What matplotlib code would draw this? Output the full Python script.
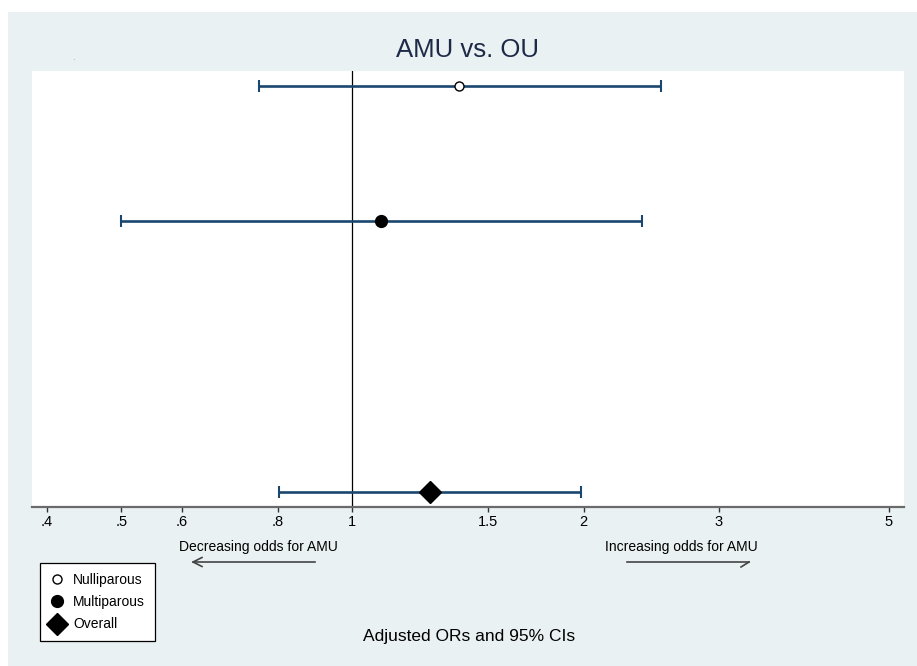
import numpy as np
import matplotlib
matplotlib.use("Agg")
import matplotlib.pyplot as plt
from matplotlib.patches import Rectangle
from matplotlib.lines import Line2D

plt.rcParams['font.family'] = ['Liberation Sans', 'DejaVu Sans']

# adjusted odds ratios with 95% confidence limits
groups = ["Nulliparous", "Multiparous", "Overall"]
ypos = [3, 2, 0]
or_est = [1.377, 1.09, 1.262]
ci_low = [0.756, 0.50, 0.802]
ci_high = [2.52, 2.384, 1.985]
markers = ["o", "o", "D"]
fills = ["white", "black", "black"]
msizes = [6.5, 8.5, 11]

xticks = [0.4, 0.5, 0.6, 0.8, 1, 1.5, 2, 3, 5]
xticklabels = [".4", ".5", ".6", ".8", "1", "1.5", "2", "3", "5"]

W, H = 917, 666
fig = plt.figure(figsize=(W / 100, H / 100), dpi=100)
fig.patch.set_facecolor("white")
bg = "#EAF1F3"
fig.add_artist(Rectangle((8 / W, 0), 1 - 8 / W, 1 - 12 / H, transform=fig.transFigure,
                         facecolor=bg, edgecolor="none", zorder=-10))


def px(x, y):
    # pixel position (from top-left) to figure fraction
    return x / W, 1 - y / H


ax = fig.add_axes([32 / W, 1 - 507 / H, (904 - 32) / W, (507 - 71) / H])
ax.set_facecolor("white")
ax.set_xscale("log")
ax.set_xlim(0.3825, 5.23)
ax.set_ylim(-0.11, 3.107)

ax.axvline(1, color="black", lw=0.9, zorder=1)

navy = "#1a476f"
for i in range(len(groups)):
    ax.errorbar(or_est[i], ypos[i],
                xerr=[[or_est[i] - ci_low[i]], [ci_high[i] - or_est[i]]],
                fmt="none", ecolor=navy, elinewidth=1.9, capsize=4, capthick=1.5, zorder=2)
    ax.plot(or_est[i], ypos[i], linestyle="none", marker=markers[i], markersize=msizes[i],
            markerfacecolor=fills[i], markeredgecolor="black", markeredgewidth=1.0,
            label=groups[i], zorder=3)

for s in ["left", "right", "top"]:
    ax.spines[s].set_visible(False)
ax.spines["bottom"].set_color("#6a6a6a")
ax.spines["bottom"].set_linewidth(1.6)
ax.set_yticks([])
ax.set_xticks(xticks)
ax.set_xticklabels(xticklabels)
ax.xaxis.set_minor_locator(matplotlib.ticker.NullLocator())
ax.tick_params(axis="x", direction="out", length=3.5, width=1, color="#333333",
               labelsize=10.5, pad=2)

# title and captions
fig.text(*px(468, 50), "AMU vs. OU", ha="center", va="center", fontsize=18.5, color="#1c2a48")
fig.text(*px(74, 59), ".", ha="center", va="center", fontsize=4, color="#555555")
fig.text(*px(258, 547), "Decreasing odds for AMU", ha="center", va="center", fontsize=10)
fig.text(*px(681, 547), "Increasing odds for AMU", ha="center", va="center", fontsize=10)
fig.text(*px(469, 636), "Adjusted ORs and 95% CIs", ha="center", va="center", fontsize=12.5)

# direction arrows
arrow_kw = dict(transform=fig.transFigure, color="#444444", lw=1.2)
for pts in ([(315, 562), (193, 562)], [(202, 557.5), (193, 562), (202, 566.5)],
            [(627, 562), (749, 562)], [(749, 562), (741, 567)]):
    xs, ys = zip(*[px(x, y) for x, y in pts])
    fig.add_artist(Line2D(xs, ys, **arrow_kw))

leg = fig.legend(loc="upper left", bbox_to_anchor=px(40, 563), borderaxespad=0,
                 frameon=True, fancybox=False, edgecolor="black", facecolor="white",
                 fontsize=10, handlelength=1.0, handletextpad=0.7, labelspacing=0.6,
                 borderpad=0.7, markerscale=1.0)
leg.get_frame().set_linewidth(0.9)
leg.get_frame().set_alpha(1)

fig.savefig("out.png", dpi=100, facecolor=fig.get_facecolor())
